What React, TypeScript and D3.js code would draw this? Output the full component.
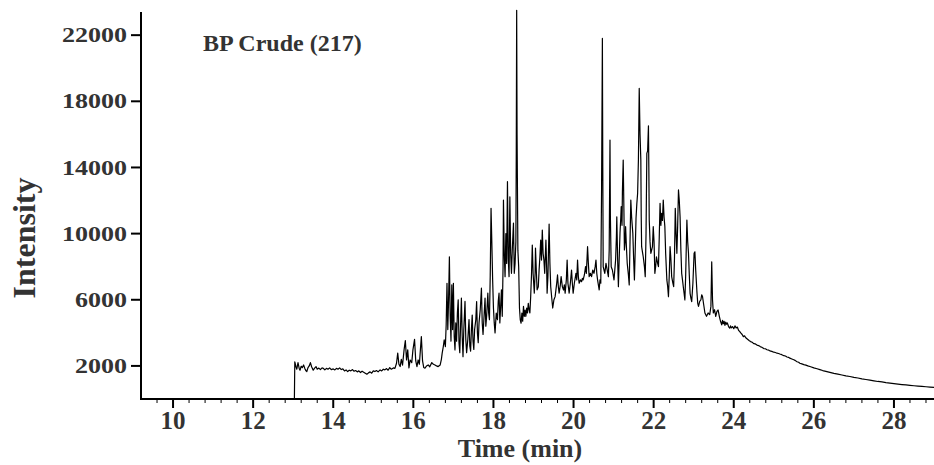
import React from 'react';
import * as d3 from 'd3';

const xTicks = [10, 12, 14, 16, 18, 20, 22, 24, 26, 28];
const yTicks = [2000, 6000, 10000, 14000, 18000, 22000];
const title = 'BP Crude (217)';
const xLabel = 'Time (min)';
const yLabel = 'Intensity';

// [time (min), intensity]
const earlyTrace: [number, number][] = [
  [9.2, 0], [13.03, 0], [13.04, 2250], [13.07, 1950], [13.09, 1800], [13.12, 2200], [13.15, 1850],
  [13.17, 1740], [13.2, 1980], [13.23, 1900], [13.26, 2060], [13.29, 1850], [13.32, 1700], [13.34, 1660],
  [13.37, 1900], [13.4, 2000], [13.43, 2200], [13.46, 1950], [13.5, 1740], [13.53, 1850], [13.57, 1960],
  [13.6, 1800], [13.64, 1870], [13.68, 1780], [13.72, 1880], [13.75, 1860], [13.79, 1760], [13.83, 1850],
  [13.87, 1800], [13.91, 1880], [13.95, 1780], [14.0, 1820], [14.04, 1760], [14.08, 1850], [14.12, 1800],
  [14.16, 1880], [14.2, 1780], [14.24, 1820], [14.28, 1700], [14.32, 1760], [14.36, 1660], [14.4, 1740],
  [14.44, 1700], [14.48, 1780], [14.52, 1680], [14.56, 1720], [14.6, 1640], [14.64, 1700], [14.68, 1600],
  [14.72, 1680], [14.76, 1620], [14.8, 1560], [14.84, 1500], [14.88, 1580], [14.92, 1640], [14.96, 1560],
  [15.0, 1700], [15.04, 1660], [15.08, 1720], [15.12, 1640], [15.17, 1760], [15.21, 1700], [15.25, 1800],
  [15.29, 1760], [15.33, 1840], [15.37, 1740], [15.41, 1900], [15.45, 1800], [15.5, 1880], [15.54, 1850],
  [15.58, 2160], [15.61, 2770], [15.64, 2100], [15.67, 1960], [15.7, 2400], [15.73, 2050], [15.77, 3000],
  [15.8, 3530], [15.83, 2360], [15.86, 2970], [15.89, 1880], [15.92, 2360], [15.96, 2200], [15.99, 2970],
  [16.03, 3610], [16.06, 2300], [16.09, 1960], [16.12, 2360], [16.15, 2100], [16.2, 3770], [16.23, 2300],
  [16.26, 1900], [16.29, 1860], [16.33, 2000], [16.37, 2060], [16.41, 1950], [16.46, 2200], [16.5, 2100],
  [16.54, 2060], [16.58, 2000], [16.62, 1960], [16.67, 2060], [16.7, 2400], [16.72, 2770], [16.75, 3200],
  [16.77, 3570], [16.8, 3170],
];

const riseTrace: [number, number][] = [
  [16.82, 4500], [16.84, 7000], [16.86, 4200], [16.88, 6000], [16.9, 8600], [16.92, 5000], [16.94, 3500],
  [16.96, 6900], [16.98, 4200], [17.0, 7000], [17.02, 3800], [17.04, 2970], [17.06, 4600], [17.08, 3500],
  [17.1, 5200], [17.12, 6000], [17.14, 3400], [17.16, 2800], [17.18, 4500], [17.2, 6100], [17.22, 3800],
  [17.24, 2560], [17.26, 4200], [17.29, 5900], [17.31, 3600], [17.33, 2800], [17.36, 3600], [17.39, 4800],
  [17.41, 3200], [17.43, 2900], [17.45, 4200], [17.47, 5080], [17.49, 3500], [17.51, 3000], [17.53, 4200],
  [17.56, 4800], [17.58, 5890], [17.6, 4000], [17.62, 3400], [17.64, 4600], [17.67, 5400], [17.7, 6700],
  [17.72, 4600], [17.74, 3900], [17.77, 5200], [17.79, 6100], [17.81, 4400], [17.83, 5000], [17.86, 6400],
  [17.88, 5200], [17.9, 4800], [17.92, 7500], [17.94, 11530], [17.96, 9430], [17.98, 7200], [18.0, 5500],
  [18.02, 4600], [18.04, 4000], [18.07, 5200], [18.1, 4800], [18.12, 5900], [18.14, 6400], [18.16, 4600],
  [18.18, 5600], [18.2, 6600], [18.22, 5000], [18.24, 8000], [18.25, 12030], [18.27, 8800], [18.29, 7400],
  [18.31, 10000], [18.33, 8200], [18.35, 13140], [18.37, 8500], [18.39, 7400], [18.41, 12230], [18.43, 8800],
  [18.45, 7600], [18.47, 9000], [18.5, 10640], [18.52, 7600], [18.54, 8200], [18.56, 9500], [18.57, 15000],
  [18.58, 23500], [18.59, 16000], [18.61, 9000], [18.63, 8000], [18.65, 5500], [18.67, 4780], [18.69, 4580],
  [18.71, 5200], [18.73, 4700], [18.75, 5600], [18.77, 5000], [18.79, 5380], [18.81, 5000], [18.83, 5500],
  [18.85, 5200], [18.87, 5790], [18.89, 5400], [18.91, 5200], [18.93, 6200], [18.95, 7500], [18.97, 9310],
  [18.99, 7600], [19.02, 6400], [19.04, 7600], [19.05, 9130], [19.07, 7800], [19.09, 6600], [19.12, 6790],
  [19.14, 7800], [19.16, 8600], [19.18, 9610], [19.2, 8400], [19.22, 10220], [19.24, 8800], [19.26, 8410],
  [19.28, 7600], [19.31, 9610], [19.33, 7800], [19.34, 6400], [19.36, 7400], [19.39, 10580], [19.41, 8200],
  [19.43, 6790], [19.46, 6000], [19.48, 5500], [19.51, 6000], [19.54, 6190], [19.56, 6600], [19.58, 7000],
  [19.6, 7500], [19.62, 6800], [19.64, 6400], [19.67, 6900], [19.69, 7400], [19.72, 6800], [19.75, 6590],
  [19.77, 6900], [19.79, 6400], [19.82, 7200], [19.84, 8400], [19.86, 7000], [19.89, 6400], [19.92, 7000],
  [19.95, 7800], [19.97, 7000], [19.99, 6400], [20.02, 7000], [20.06, 7600], [20.08, 7200], [20.1, 8400],
  [20.12, 7400], [20.14, 7000], [20.17, 7200], [20.2, 7090], [20.22, 7300], [20.24, 7200], [20.27, 7500],
  [20.3, 8000], [20.32, 7600], [20.35, 9210], [20.37, 8200], [20.39, 7400], [20.42, 7600], [20.45, 7400],
  [20.48, 7800], [20.51, 7600], [20.54, 8000], [20.56, 8400], [20.58, 7600], [20.6, 7200], [20.62, 6900],
  [20.64, 6600], [20.66, 7200], [20.68, 7000],
];

const clusterTrace: [number, number][] = [
  [20.7, 12740], [20.72, 21800], [20.73, 14000], [20.74, 8000], [20.76, 7800], [20.78, 7600], [20.81, 8200],
  [20.84, 7800], [20.87, 7400], [20.89, 9000], [20.91, 15660], [20.92, 11000], [20.94, 8000], [20.97, 7800],
  [20.99, 7500], [21.01, 7200], [21.03, 7800], [21.05, 8400], [21.07, 9800], [21.08, 11020], [21.1, 8500],
  [21.12, 6790], [21.14, 8500], [21.16, 10020], [21.18, 11000], [21.19, 11630], [21.21, 10500], [21.22, 12500],
  [21.24, 14450], [21.26, 11000], [21.27, 9010], [21.29, 9600], [21.3, 10420], [21.32, 9200], [21.34, 8210],
  [21.37, 7500], [21.39, 6900], [21.41, 9500], [21.43, 12030], [21.45, 11000], [21.48, 10020], [21.5, 8500],
  [21.52, 7200], [21.54, 9000], [21.56, 10930], [21.58, 11800], [21.6, 12440], [21.62, 14500], [21.64, 18780],
  [21.66, 16000], [21.68, 14450], [21.69, 11000], [21.7, 9210], [21.72, 8900], [21.74, 8600], [21.77, 8000],
  [21.79, 7400], [21.81, 10000], [21.83, 14850], [21.85, 15000], [21.87, 16510], [21.88, 14000], [21.89, 10820],
  [21.91, 9500], [21.93, 8810], [21.95, 9000], [21.97, 9210], [21.99, 10420], [22.01, 9500], [22.03, 7600],
  [22.05, 8000], [22.07, 8600], [22.1, 8200], [22.12, 8000], [22.14, 9800], [22.16, 11830], [22.18, 10500],
  [22.2, 11230], [22.22, 10800], [22.24, 12030], [22.26, 11000], [22.28, 10420], [22.3, 8800], [22.33, 7200],
  [22.35, 6800], [22.37, 6190], [22.39, 7500], [22.41, 9210], [22.43, 8500], [22.45, 7400], [22.48, 7000],
  [22.5, 6790], [22.52, 8500], [22.54, 11530], [22.56, 10000], [22.58, 8810], [22.6, 10500], [22.62, 12640],
  [22.64, 12000], [22.66, 11020], [22.68, 9000], [22.7, 7600], [22.72, 7200], [22.74, 6790], [22.76, 6400],
  [22.78, 5990], [22.8, 7500], [22.83, 10820], [22.85, 9500], [22.87, 8810], [22.89, 7500], [22.91, 6390],
  [22.93, 6100], [22.95, 5890], [22.98, 7000], [23.01, 8810], [23.03, 8900], [23.05, 7800], [23.08, 6500],
  [23.1, 5800], [23.12, 5600], [23.15, 5900], [23.18, 6000], [23.2, 6300], [23.22, 6200], [23.25, 5700],
  [23.28, 5200], [23.32, 5000], [23.36, 5200], [23.4, 5100], [23.43, 5600], [23.45, 8300], [23.47, 6000],
  [23.49, 5200], [23.52, 5400], [23.55, 5000], [23.58, 5300], [23.61, 5380], [23.64, 5000], [23.67, 4700],
];

const tailTrace: [number, number][] = [
  [23.7, 4480], [23.72, 4750], [23.74, 4550], [23.76, 4700], [23.78, 4450], [23.8, 4650], [23.82, 4520],
  [23.84, 4600], [23.87, 4380], [23.9, 4280], [23.92, 4420], [23.94, 4300], [23.97, 4380], [24.0, 4250],
  [24.03, 4420], [24.06, 4300], [24.09, 4350], [24.12, 4150], [24.15, 4080], [24.18, 3980], [24.21, 3900],
  [24.24, 3770], [24.27, 3820], [24.3, 3700], [24.33, 3640], [24.36, 3580], [24.39, 3520], [24.42, 3470],
  [24.46, 3430], [24.5, 3350], [24.54, 3330], [24.58, 3260], [24.62, 3230], [24.66, 3170], [24.7, 3130],
  [24.75, 3050], [24.79, 3040], [24.83, 2980], [24.87, 2960], [24.9, 2910], [24.95, 2880], [25.0, 2830],
  [25.04, 2810], [25.08, 2770], [25.12, 2750], [25.15, 2720], [25.2, 2680], [25.25, 2620], [25.29, 2600],
  [25.33, 2540], [25.37, 2520], [25.4, 2470], [25.45, 2420], [25.5, 2370], [25.54, 2320], [25.58, 2250],
  [25.62, 2220], [25.65, 2160], [25.7, 2120], [25.75, 2080], [25.8, 2050], [25.85, 2000], [25.92, 1950],
  [26.0, 1880], [26.08, 1830], [26.15, 1780], [26.22, 1720], [26.3, 1670], [26.4, 1610], [26.5, 1550],
  [26.6, 1500], [26.7, 1450], [26.8, 1400], [26.9, 1360], [27.0, 1310], [27.1, 1270], [27.2, 1220],
  [27.3, 1180], [27.4, 1140], [27.5, 1100], [27.6, 1060], [27.7, 1030], [27.8, 990], [27.9, 960],
  [28.0, 930], [28.1, 900], [28.2, 875], [28.3, 850], [28.4, 825], [28.5, 800], [28.6, 780], [28.7, 760],
  [28.8, 740], [28.9, 720], [29.0, 700],
];

const FONT = '"Liberation Serif", "Times New Roman", serif';

export default function App() {
  const W = 934;
  const H = 465;
  const left = 141;
  const right = 934;
  const top = 12;
  const bottom = 399;
  const x = d3.scaleLinear().domain([9.2, 29.0]).range([left, right]);
  const y = d3.scaleLinear().domain([0, 23400]).range([bottom, top]);
  const trace = [...earlyTrace, ...riseTrace, ...clusterTrace, ...tailTrace];
  const line = d3
    .line<[number, number]>()
    .x((d) => x(d[0]))
    .y((d) => y(d[1]));
  const minorTicks = d3
    .range(0, 50)
    .map((i) => +(9.6 + i * 0.4).toFixed(2))
    .filter((t) => t <= 29 && !xTicks.some((m) => Math.abs(m - t) < 1e-6));

  return (
    <svg
      width={W}
      height={H}
      viewBox={`0 0 ${W} ${H}`}
      style={{ position: 'absolute', left: 0, top: 0, background: '#fff' }}
    >
      <rect x={0} y={0} width={W} height={H} fill="#fff" />
      <path d={line(trace) || ''} fill="none" stroke="#000" strokeWidth={1.2} strokeLinejoin="round" />
      {/* axes */}
      <line x1={left} x2={left} y1={top} y2={bottom + 1} stroke="#000" strokeWidth={2} />
      <line x1={left - 1} x2={right} y1={bottom} y2={bottom} stroke="#000" strokeWidth={2.2} />
      {yTicks.map((t) => (
        <g key={'y' + t}>
          <line x1={left - 10} x2={left} y1={y(t)} y2={y(t)} stroke="#000" strokeWidth={2} />
          <g transform={`translate(127, ${y(t)}) scale(1.24, 1)`}>
            <text
              textAnchor="end"
              dy="0.34em"
              fontFamily={FONT}
              fontWeight="bold"
              fontSize={21}
              fill="#333"
            >
              {t}
            </text>
          </g>
        </g>
      ))}
      {minorTicks.map((t) => (
        <line key={'m' + t} x1={x(t)} x2={x(t)} y1={bottom} y2={bottom + 4} stroke="#000" strokeWidth={1} />
      ))}
      {xTicks.map((t) => (
        <g key={'x' + t}>
          <line x1={x(t)} x2={x(t)} y1={bottom} y2={bottom + 9} stroke="#000" strokeWidth={2} />
          <text
            x={x(t)}
            y={429}
            textAnchor="middle"
            fontFamily={FONT}
            fontWeight="bold"
            fontSize={25}
            fill="#333"
          >
            {t}
          </text>
        </g>
      ))}
      <text
        x={520}
        y={457}
        textAnchor="middle"
        fontFamily={FONT}
        fontWeight="bold"
        fontSize={26}
        fill="#333"
      >
        {xLabel}
      </text>
      <text
        transform="translate(35, 238) rotate(-90)"
        textAnchor="middle"
        fontFamily={FONT}
        fontWeight="bold"
        fontSize={32}
        fill="#333"
      >
        {yLabel}
      </text>
      <text x={203} y={51} fontFamily={FONT} fontWeight="bold" fontSize={24} fill="#333">
        {title}
      </text>
    </svg>
  );
}
